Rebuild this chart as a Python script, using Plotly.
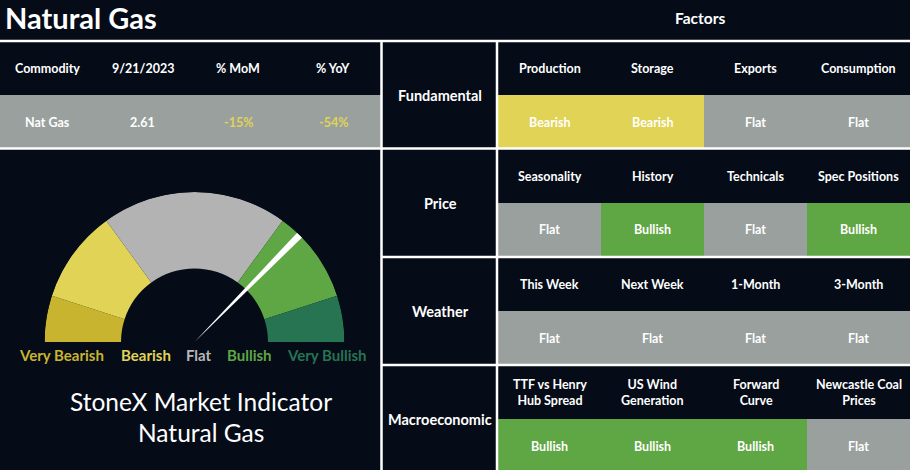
import plotly.graph_objects as go

# --- data ---
commodity_cols = ['Commodity', '9/21/2023', '% MoM', '% YoY']
commodity_row = ['Nat Gas', '2.61', '-15%', '-54%']

gauge_labels = ['Very Bearish', 'Bearish', 'Flat', 'Bullish', 'Very Bullish']
gauge_spans = [18, 36, 72, 36, 18]  # degrees of the half circle
needle_angle = 45.5  # degrees from the right end

categories = ['Fundamental', 'Price', 'Weather', 'Macroeconomic']
factors = [
    ['Production', 'Storage', 'Exports', 'Consumption'],
    ['Seasonality', 'History', 'Technicals', 'Spec Positions'],
    ['This Week', 'Next Week', '1-Month', '3-Month'],
    ['TTF vs Henry<br>Hub Spread', 'US Wind<br>Generation', 'Forward<br>Curve', 'Newcastle Coal<br>Prices'],
]
signals = [
    ['Bearish', 'Bearish', 'Flat', 'Flat'],
    ['Flat', 'Bullish', 'Flat', 'Bullish'],
    ['Flat', 'Flat', 'Flat', 'Flat'],
    ['Bullish', 'Bullish', 'Bullish', 'Flat'],
]

# --- style ---
W, H = 910, 470
BG = '#050c18'
FONT = 'Lato'
GRAY = '#9aa09e'
YELLOW = '#e0d355'
GREEN = '#5fa644'
cell_colors = {'Bearish': YELLOW, 'Flat': GRAY, 'Bullish': GREEN}
gauge_colors = ['#c8b42f', YELLOW, '#b3b3b3', GREEN, '#267452']
label_colors = ['#c8b42f', YELLOW, '#b8b8b8', GREEN, '#267452']

fig = go.Figure()


def px(x):
    return x / W


def py(y):
    return 1 - y / H


def rect(x0, y0, x1, y1, color):
    fig.add_shape(type='rect', xref='paper', yref='paper', x0=px(x0), x1=px(x1), y0=py(y1), y1=py(y0),
                  fillcolor=color, line_width=0, layer='below')


def hline(y, x0, x1):
    fig.add_shape(type='line', xref='paper', yref='paper', x0=px(x0), x1=px(x1), y0=py(y), y1=py(y),
                  line=dict(color='white', width=2.5))


def vline(x, y0, y1):
    fig.add_shape(type='line', xref='paper', yref='paper', x0=px(x), x1=px(x), y0=py(y0), y1=py(y1),
                  line=dict(color='white', width=2.5))


def text(x, y, s, size, color='white', weight='bold', anchor='center'):
    fig.add_annotation(xref='paper', yref='paper', x=px(x), y=py(y), text=s, showarrow=False,
                       xanchor=anchor, yanchor='middle', align='center',
                       font=dict(family=FONT, size=size, color=color, weight=weight))


# titles
text(3, 18, 'Natural Gas', 29, anchor='left')
text(700, 18, 'Factors', 15.5)

# commodity table
top = 41
col_w = 381 / 4
rect(0, 95, 381, 148, GRAY)
for i, (head, val) in enumerate(zip(commodity_cols, commodity_row)):
    cx = col_w * (i + 0.5)
    text(cx, 68, head, 12.5)
    text(cx, 122, val, 12.5, color=YELLOW if val.startswith('-') else 'white')

# factor grid
cat_x0, cat_x1 = 383, 497
grid_x0 = 498
fw = (W - grid_x0) / 4
group_h = 108
for g, cat in enumerate(categories):
    gy = top + g * group_h
    text((cat_x0 + cat_x1) / 2, gy + group_h / 2, cat, 14.5)
    for j, (name, sig) in enumerate(zip(factors[g], signals[g])):
        x0 = grid_x0 + j * fw
        rect(x0, gy + 54, x0 + fw, gy + group_h, cell_colors[sig])
        text(x0 + fw / 2, gy + 27, name, 12.5)
        text(x0 + fw / 2, gy + 81, sig, 12.5)

# gauge
inner = 0.49
start = 180
centers = []
for span in gauge_spans:
    centers.append(start - span / 2)
    start -= span
fig.add_trace(go.Barpolar(theta=centers, width=gauge_spans, r=[1 - inner] * len(gauge_spans), base=inner,
                          marker=dict(color=gauge_colors, line=dict(width=0)), hoverinfo='skip'))
fig.add_trace(go.Scatterpolar(r=[0, 1, 1, 0], theta=[needle_angle, needle_angle - 1.3, needle_angle + 1.3, needle_angle],
                              mode='lines', fill='toself', fillcolor='white', line=dict(width=0, color='white'),
                              hoverinfo='skip'))

label_x = [62, 146, 199, 249, 327]
for lx, lab, col in zip(label_x, gauge_labels, label_colors):
    text(lx, 355, lab, 15, color=col)

text(201, 401, 'StoneX Market Indicator', 24.5, weight='normal')
text(201, 432, 'Natural Gas', 24.5, weight='normal')

# grid lines
hline(top, 0, W)
hline(148.5, 0, W)
for g in range(2, 4):
    hline(top + g * group_h, 382, W)
vline(381.5, top, H)
vline(497, top, H)

fig.update_layout(
    width=W, height=H, margin=dict(l=0, r=0, t=0, b=0),
    paper_bgcolor=BG, plot_bgcolor=BG, showlegend=False,
    polar=dict(
        domain=dict(x=[px(44.5), px(344.5)], y=[py(342), py(192)]),
        sector=[0, 180], hole=0, bgcolor='rgba(0,0,0,0)', bargap=0,
        radialaxis=dict(visible=False, range=[0, 1]),
        angularaxis=dict(visible=False),
    ),
)

fig.write_html('out.html', config={'displayModeBar': False},
               post_script="document.body.style.margin='0';document.body.style.background='" + BG + "';")
